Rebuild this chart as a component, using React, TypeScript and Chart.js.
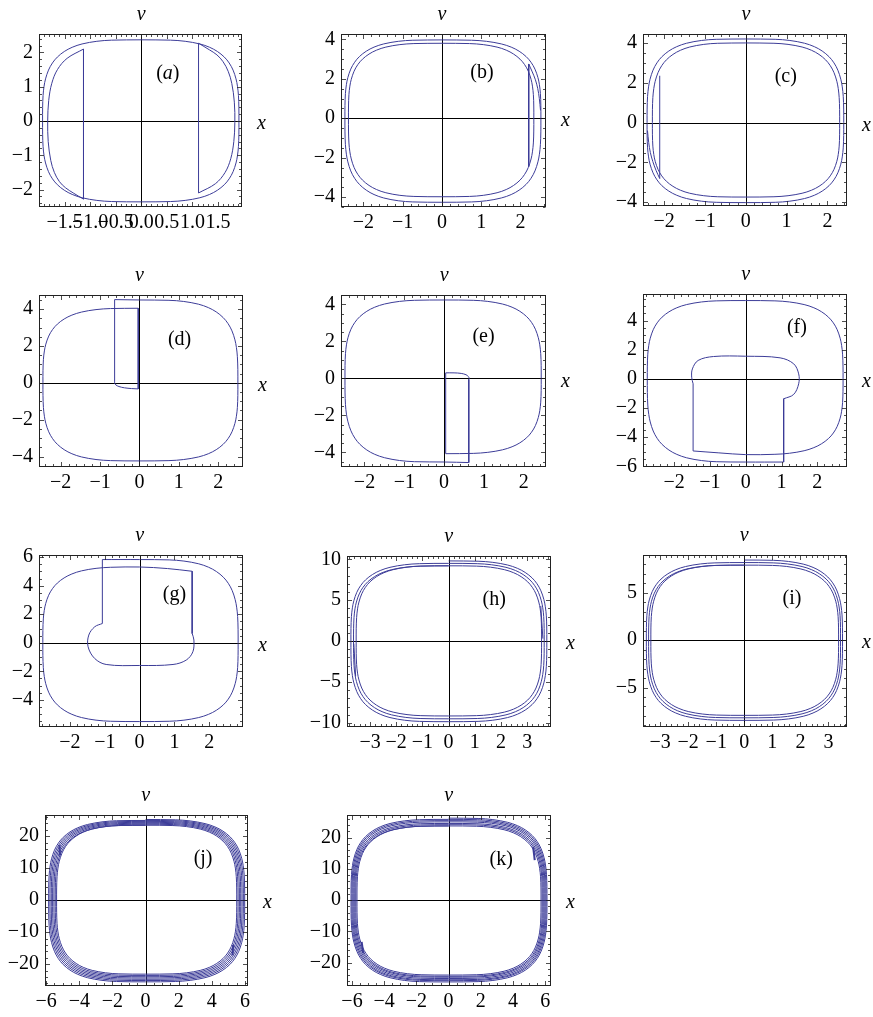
import React, { useEffect, useRef } from "react";
import { Chart, registerables } from "chart.js";

Chart.register(...registerables);

type P = [number, number];

const SERIF = "'Liberation Serif', 'Times New Roman', 'DejaVu Serif', serif";
const CURVE = "#3c3c98";
const INK = "#000";

// One quarter of a rounded phase loop, from its top (0,1) to its side (1,0)
const LOOP_QUARTER: P[] = [
  [0, 1], [0.3, 0.996], [0.45, 0.982], [0.6, 0.949], [0.7, 0.908], [0.78, 0.856],
  [0.85, 0.788], [0.9, 0.715], [0.94, 0.627], [0.97, 0.519], [0.985, 0.428],
  [0.995, 0.315], [0.9995, 0.163], [1, 0],
];

const TR = (xR: number, vT: number): P[] => LOOP_QUARTER.map(([u, w]) => [u * xR, w * vT]);
const BR = (xR: number, vB: number): P[] => LOOP_QUARTER.slice().reverse().map(([u, w]) => [u * xR, w * vB]);
const BL = (xL: number, vB: number): P[] => LOOP_QUARTER.map(([u, w]) => [u * xL, w * vB]);
const TL = (xL: number, vT: number): P[] => LOOP_QUARTER.slice().reverse().map(([u, w]) => [u * xL, w * vT]);

function join(...parts: P[][]): P[] {
  const out: P[] = [];
  for (const part of parts) {
    for (const p of part) {
      const q = out[out.length - 1];
      if (!q || Math.abs(q[0] - p[0]) > 1e-9 || Math.abs(q[1] - p[1]) > 1e-9) out.push(p);
    }
  }
  return out;
}

// closed loop from its extents [xLeft, xRight, vBottom, vTop]
const loop = ([xL, xR, vB, vT]: number[]): P[] => join(TR(xR, vT), BR(xR, vB), BL(xL, vB), TL(xL, vT));

// several turns drawn as one continuous path
function spiral(xl: number[], xr: number[], vb: number[], vt: number[]): P[] {
  const parts: P[][] = [];
  for (let k = 0; k < xl.length; k++) {
    parts.push(TR(xr[k], vt[k]), BR(xr[k], vb[k]), BL(xl[k], vb[k]), TL(xl[k], vt[k + 1]));
  }
  return join(...parts);
}

// ---------- (a) ----------
const A_OUTER = [-1.93, 1.91, -2.36, 2.37];
const A_LEFT_ARC: P[] = [[-1.13, -2.28], [-1.33, -2.1], [-1.48, -1.95], [-1.6, -1.77], [-1.7, -1.5], [-1.77, -1.15], [-1.82, -0.6], [-1.83, 0], [-1.81, 0.6], [-1.75, 1.1], [-1.64, 1.5], [-1.45, 1.83], [-1.13, 2.1]];
const A_LEFT_JUMP: P[] = [[-1.13, 2.1], [-1.13, -2.28]];
const A_RIGHT_ARC: P[] = [[1.12, 2.27], [1.33, 2.08], [1.48, 1.93], [1.6, 1.73], [1.7, 1.45], [1.77, 1.1], [1.82, 0.55], [1.83, -0.05], [1.81, -0.6], [1.75, -1.1], [1.64, -1.5], [1.45, -1.83], [1.12, -2.1]];
const A_RIGHT_JUMP: P[] = [[1.12, -2.1], [1.12, 2.27]];

// ---------- (b) ----------
const B_OUTER = [-2.47, 2.52, -4.26, 3.97];
const B_INNER = [-2.38, 2.34, -3.98, 3.8];
const B_JUMP: P[] = [[2.21, 2.75], [2.21, -2.45]];
const B_SPIKE: P[] = [[2.21, 2.75], [2.3, 2.35], [2.38, 1.95], [2.44, 1.5], [2.48, 1.0], [2.51, 0.4]];

// ---------- (c) ----------
const C_OUTER = [-2.42, 2.4, -4.02, 4.21];
const C_INNER = [-2.29, 2.3, -3.74, 4.01];
const C_JUMP: P[] = [[-2.11, -2.81], [-2.11, 2.36]];
const C_SPIKE: P[] = [[-2.11, -2.81], [-2.2, -2.4], [-2.28, -1.95], [-2.34, -1.5], [-2.38, -1.0], [-2.41, -0.4]];

// ---------- (d) ----------
const D_LOOP: P[] = join([[-0.63, 4.52]], TR(2.5, 4.5), BR(2.5, -4.24), BL(-2.45, -4.24), TL(-2.45, 4.05).slice(0, -1), [[-0.03, 4.05]]);
const D_DROP: P[] = [[-0.03, 4.05], [-0.03, -0.33]];
const D_HOOK: P[] = [[-0.03, -0.33], [-0.2, -0.31], [-0.38, -0.27], [-0.52, -0.2], [-0.6, -0.11], [-0.63, 0.0], [-0.63, 0.05]];
const D_RISE: P[] = [[-0.63, 0.05], [-0.63, 4.52]];

// ---------- (e) ----------
const E_LOOP: P[] = join([[0.62, -4.55]], BL(-2.49, -4.52), TL(-2.49, 4.24), TR(2.44, 4.24), BR(2.44, -4.07).slice(0, -1), [[0.04, -4.07]]);
const E_RISE: P[] = [[0.04, -4.07], [0.04, 0.3]];
const E_HOOK: P[] = [[0.04, 0.3], [0.25, 0.3], [0.43, 0.27], [0.55, 0.2], [0.61, 0.1], [0.63, 0.0], [0.62, -0.05]];
const E_DROP: P[] = [[0.62, -0.05], [0.62, -4.55]];

// ---------- (f) ----------
const F_LOOP: P[] = join([[1.06, -5.71]], BL(-2.75, -5.71), TL(-2.75, 5.37), TR(2.72, 5.37), BR(2.72, -5.2), [[-0.75, -5.08], [-1.47, -4.95]]);
const F_RISE: P[] = [[-1.47, -4.95], [-1.47, -0.34]];
const F_INNER: P[] = [[-1.47, -0.34], [-1.51, 0.11], [-1.49, 0.68], [-1.33, 1.26], [-0.9, 1.53], [0, 1.55], [0.96, 1.44], [1.34, 1.03], [1.48, 0.34], [1.48, -0.34], [1.34, -1.07], [1.06, -1.37]];
const F_DROP: P[] = [[1.06, -1.37], [1.06, -5.71]];

// ---------- (g) ----------
const G_RISE: P[] = [[-1.07, 1.35], [-1.07, 5.83]];
const G_LOOP: P[] = join([[-1.07, 5.83]], TR(2.83, 5.83), BR(2.83, -5.52), BL(-2.78, -5.52), TL(-2.78, 5.31), [[0.8, 5.2], [1.51, 5.01]]);
const G_DROP: P[] = [[1.51, 5.01], [1.51, 0.65]];
const G_INNER: P[] = [[1.51, 0.65], [1.56, 0.19], [1.53, -0.63], [1.34, -1.21], [0.96, -1.52], [0, -1.59], [-0.96, -1.52], [-1.29, -1.1], [-1.48, -0.28], [-1.46, 0.54], [-1.29, 1.12], [-1.07, 1.35]];

// ---------- (h) ----------
const H_XL = [-3.73, -3.63, -3.53];
const H_XR = [3.75, 3.65, 3.55];
const H_VB = [-9.85, -9.5, -9.15];
const H_VT = [9.8, 9.5, 9.2, 9.2];
const H_END_R: P[] = [[3.52, 4.3], [3.6, 0.3]];
const H_END_L: P[] = [[-3.55, -4.3], [-3.62, -0.3]];

// ---------- (i) ----------
const I_XL = [-3.49, -3.41, -3.33];
const I_XR = [3.5, 3.43, 3.36];
const I_VB = [-8.47, -8.2, -7.94];
const I_VT = [8.47, 8.2, 7.93, 7.93];

// ---------- (j) ----------
const J_XL = [-5.85, -5.77, -5.69, -5.61, -5.53, -5.45, -5.37];
const J_XR = [5.98, 5.9, 5.82, 5.74, 5.66, 5.58, 5.5];
const J_VB = [-25.5, -25.1, -24.7, -24.3, -23.9, -23.5, -23.1];
const J_VT = [25.2, 24.9, 24.6, 24.3, 24.0, 23.7, 23.4, 23.4];
const J_END_L: P[] = [[-5.2, 17.2], [-5.16, 14]];
const J_END_R: P[] = [[5.25, -17.2], [5.28, -14]];

// ---------- (k) ----------
const K_XL = [-6.06, -6.0, -5.94, -5.88, -5.82, -5.76, -5.69];
const K_XR = [6.11, 6.05, 5.99, 5.93, 5.87, 5.81, 5.74];
const K_VB = [-26.2, -25.8, -25.5, -25.1, -24.7, -24.4, -24.0];
const K_VT = [26.2, 25.8, 25.4, 25.0, 24.5, 24.1, 23.7, 23.7];
const K_END_R: P[] = [[5.25, 17], [5.35, 12.8]];
const K_END_L: P[] = [[-5.3, -17], [-5.4, -13.4]];

// ---------- tick values ----------
const A_XTICKS = [-1.5, -1, -0.5, 0, 0.5, 1, 1.5];
const A_YTICKS = [-2, -1, 0, 1, 2];
const X2_TICKS = [-2, -1, 0, 1, 2];
const Y4_TICKS = [-4, -2, 0, 2, 4];
const F_YTICKS = [-6, -4, -2, 0, 2, 4];
const G_YTICKS = [-4, -2, 0, 2, 4, 6];
const X3_TICKS = [-3, -2, -1, 0, 1, 2, 3];
const H_YTICKS = [-10, -5, 0, 5, 10];
const I_YTICKS = [-5, 0, 5];
const X6_TICKS = [-6, -4, -2, 0, 2, 4, 6];
const Y20_TICKS = [-20, -10, 0, 10, 20];

type Piece = { pts: P[]; smooth: boolean; width?: number };
type TagPart = { t: string; italic: boolean };
type PanelCfg = {
  frame: [number, number, number, number];
  xRange: [number, number];
  yRange: [number, number];
  xTicks: number[];
  yTicks: number[];
  xMinor: number;
  yMinor: number;
  xDec: number;
  tag: TagPart[];
  tagAt: P;
  pieces: Piece[];
};

const sm = (pts: P[], width?: number): Piece => ({ pts, smooth: true, width });
const st = (pts: P[], width?: number): Piece => ({ pts, smooth: false, width });
const up = (s: string): TagPart[] => [{ t: s, italic: false }];

const PANELS: PanelCfg[] = [
  {
    frame: [39, 34, 242, 207], xRange: [-2.0, 1.97], yRange: [-2.51, 2.54],
    xTicks: A_XTICKS, yTicks: A_YTICKS, xMinor: 0.1, yMinor: 0.2, xDec: 1,
    tag: [{ t: "(", italic: false }, { t: "a", italic: true }, { t: ")", italic: false }], tagAt: [0.52, 1.38],
    pieces: [sm(loop(A_OUTER)), sm(A_LEFT_ARC), st(A_LEFT_JUMP), sm(A_RIGHT_ARC), st(A_RIGHT_JUMP)],
  },
  {
    frame: [341, 34, 546, 207], xRange: [-2.57, 2.65], yRange: [-4.5, 4.27],
    xTicks: X2_TICKS, yTicks: Y4_TICKS, xMinor: 0.2, yMinor: 0.5, xDec: 0,
    tag: up("(b)"), tagAt: [1.02, 2.31],
    pieces: [sm(loop(B_OUTER)), sm(loop(B_INNER)), st(B_JUMP), sm(B_SPIKE)],
  },
  {
    frame: [643, 34, 847, 206], xRange: [-2.52, 2.48], yRange: [-4.19, 4.46],
    xTicks: X2_TICKS, yTicks: Y4_TICKS, xMinor: 0.2, yMinor: 0.5, xDec: 0,
    tag: up("(c)"), tagAt: [0.98, 2.32],
    pieces: [sm(loop(C_OUTER)), sm(loop(C_INNER)), st(C_JUMP), sm(C_SPIKE)],
  },
  {
    frame: [39, 295, 243, 467], xRange: [-2.55, 2.63], yRange: [-4.57, 4.77],
    xTicks: X2_TICKS, yTicks: Y4_TICKS, xMinor: 0.2, yMinor: 0.5, xDec: 0,
    tag: up("(d)"), tagAt: [1.02, 2.32],
    pieces: [sm(D_LOOP), st(D_DROP), sm(D_HOOK), st(D_RISE)],
  },
  {
    frame: [341, 295, 546, 467], xRange: [-2.59, 2.56], yRange: [-4.79, 4.51],
    xTicks: X2_TICKS, yTicks: Y4_TICKS, xMinor: 0.2, yMinor: 0.5, xDec: 0,
    tag: up("(e)"), tagAt: [0.99, 2.25],
    pieces: [sm(E_LOOP), st(E_RISE), sm(E_HOOK), st(E_DROP)],
  },
  {
    frame: [643, 294, 847, 467], xRange: [-2.87, 2.83], yRange: [-6.05, 5.82],
    xTicks: X2_TICKS, yTicks: F_YTICKS, xMinor: 0.2, yMinor: 0.5, xDec: 0,
    tag: up("(f)"), tagAt: [1.43, 3.49],
    pieces: [sm(F_LOOP), st(F_RISE), sm(F_INNER), st(F_DROP)],
  },
  {
    frame: [39, 555, 243, 727], xRange: [-2.89, 2.97], yRange: [-5.9, 6.15],
    xTicks: X2_TICKS, yTicks: G_YTICKS, xMinor: 0.2, yMinor: 0.5, xDec: 0,
    tag: up("(g)"), tagAt: [1.0, 3.34],
    pieces: [st(G_RISE), sm(G_LOOP), st(G_DROP), sm(G_INNER)],
  },
  {
    frame: [347, 556, 551, 727], xRange: [-3.88, 3.91], yRange: [-10.5, 10.4],
    xTicks: X3_TICKS, yTicks: H_YTICKS, xMinor: 0.2, yMinor: 1, xDec: 0,
    tag: up("(h)"), tagAt: [1.74, 5.1],
    pieces: [sm(spiral(H_XL, H_XR, H_VB, H_VT)), st(H_END_R), st(H_END_L)],
  },
  {
    frame: [643, 555, 847, 727], xRange: [-3.61, 3.66], yRange: [-9.17, 9.0],
    xTicks: X3_TICKS, yTicks: I_YTICKS, xMinor: 0.2, yMinor: 1, xDec: 0,
    tag: up("(i)"), tagAt: [1.7, 4.41],
    pieces: [sm(spiral(I_XL, I_XR, I_VB, I_VT))],
  },
  {
    frame: [45, 815, 248, 986], xRange: [-6.07, 6.18], yRange: [-26.8, 26.6],
    xTicks: X6_TICKS, yTicks: Y20_TICKS, xMinor: 0.5, yMinor: 2, xDec: 0,
    tag: up("(j)"), tagAt: [3.47, 12.8],
    pieces: [sm(spiral(J_XL, J_XR, J_VB, J_VT)), st(J_END_L, 2), st(J_END_R, 2)],
  },
  {
    frame: [347, 815, 551, 986], xRange: [-6.31, 6.36], yRange: [-27.5, 27.2],
    xTicks: X6_TICKS, yTicks: Y20_TICKS, xMinor: 0.5, yMinor: 2, xDec: 0,
    tag: up("(k)"), tagAt: [3.27, 12.8],
    pieces: [sm(spiral(K_XL, K_XR, K_VB, K_VT)), st(K_END_R, 2), st(K_END_L, 2)],
  },
];

const fmt = (v: number, dec: number) => (v < -1e-9 ? "\u2212" : "") + Math.abs(v).toFixed(dec);

function framePlugin(cfg: PanelCfg) {
  return {
    id: "phaseFrame",
    beforeDatasetsDraw(chart: any) {
      const { ctx, chartArea: ca, scales } = chart;
      const x0 = Math.round(scales.x.getPixelForValue(0)) + 0.5;
      const y0 = Math.round(scales.y.getPixelForValue(0)) + 0.5;
      ctx.save();
      ctx.strokeStyle = INK;
      ctx.lineWidth = 1;
      ctx.beginPath();
      ctx.moveTo(x0, ca.top);
      ctx.lineTo(x0, ca.bottom);
      ctx.moveTo(ca.left, y0);
      ctx.lineTo(ca.right, y0);
      ctx.stroke();
      ctx.restore();
    },
    afterDraw(chart: any) {
      const { ctx, chartArea: ca, scales } = chart;
      const sx = scales.x;
      const sy = scales.y;
      const L = Math.round(ca.left) + 0.5;
      const R = Math.round(ca.right) - 0.5;
      const T = Math.round(ca.top) + 0.5;
      const B = Math.round(ca.bottom) - 0.5;
      ctx.save();
      ctx.strokeStyle = "#222";
      ctx.lineWidth = 1;
      ctx.strokeRect(L, T, R - L, B - T);

      const major = 4.5;
      const minor = 2.5;
      ctx.lineWidth = 0.8;
      ctx.beginPath();
      const isMajor = (v: number, list: number[]) => list.some((m) => Math.abs(m - v) < 1e-6);
      // ticks along the bottom and top edges
      for (let k = Math.ceil(cfg.xRange[0] / cfg.xMinor); k * cfg.xMinor <= cfg.xRange[1]; k++) {
        const v = k * cfg.xMinor;
        const len = isMajor(v, cfg.xTicks) ? major : minor;
        const px = Math.round(sx.getPixelForValue(v)) + 0.5;
        ctx.moveTo(px, B);
        ctx.lineTo(px, B - len);
        ctx.moveTo(px, T);
        ctx.lineTo(px, T + len);
      }
      // ticks along the left and right edges
      for (let k = Math.ceil(cfg.yRange[0] / cfg.yMinor); k * cfg.yMinor <= cfg.yRange[1]; k++) {
        const v = k * cfg.yMinor;
        const len = isMajor(v, cfg.yTicks) ? major : minor;
        const py = Math.round(sy.getPixelForValue(v)) + 0.5;
        ctx.moveTo(L, py);
        ctx.lineTo(L + len, py);
        ctx.moveTo(R, py);
        ctx.lineTo(R - len, py);
      }
      ctx.stroke();

      // axis names
      ctx.fillStyle = INK;
      ctx.font = `italic 20px ${SERIF}`;
      ctx.textAlign = "center";
      ctx.textBaseline = "middle";
      ctx.fillText("v", sx.getPixelForValue(0), ca.top - 19);
      ctx.textAlign = "left";
      ctx.fillText("x", ca.right + 15, sy.getPixelForValue(0) + 3);

      // panel tag
      const fontFor = (p: TagPart) => `${p.italic ? "italic " : ""}20px ${SERIF}`;
      let total = 0;
      for (const p of cfg.tag) {
        ctx.font = fontFor(p);
        total += ctx.measureText(p.t).width;
      }
      let cx = sx.getPixelForValue(cfg.tagAt[0]) - total / 2;
      const cy = sy.getPixelForValue(cfg.tagAt[1]);
      for (const p of cfg.tag) {
        ctx.font = fontFor(p);
        ctx.fillText(p.t, cx, cy);
        cx += ctx.measureText(p.t).width;
      }
      ctx.restore();
    },
  };
}

function Panel({ cfg }: { cfg: PanelCfg }) {
  const ref = useRef<HTMLCanvasElement>(null);
  const [l, t, r, b] = cfg.frame;
  const cLeft = Math.max(0, l - 46);
  const cTop = t - 34;
  const cRight = r + 40;
  const cBottom = Math.min(1017, b + 30);
  const w = cRight - cLeft;
  const h = cBottom - cTop;
  const yW = l - cLeft;
  const xH = cBottom - b;

  useEffect(() => {
    const canvas = ref.current;
    if (!canvas) return;
    const chart = new Chart(canvas, {
      type: "scatter",
      data: {
        datasets: cfg.pieces.map((pc) => ({
          data: pc.pts.map(([x, y]) => ({ x, y })),
          showLine: true,
          borderColor: CURVE,
          backgroundColor: CURVE,
          borderWidth: pc.width ?? 1,
          pointRadius: 0,
          pointHoverRadius: 0,
          tension: pc.smooth ? 0.35 : 0,
          fill: false,
        })),
      },
      options: {
        responsive: false,
        animation: false,
        events: [],
        layout: { padding: { left: 0, top: 34, right: 40, bottom: 0 } },
        plugins: { legend: { display: false }, tooltip: { enabled: false } },
        scales: {
          x: {
            type: "linear",
            min: cfg.xRange[0],
            max: cfg.xRange[1],
            afterBuildTicks: (s: any) => {
              s.ticks = cfg.xTicks.map((v) => ({ value: v }));
            },
            afterFit: (s: any) => {
              s.height = xH;
            },
            ticks: {
              autoSkip: false,
              maxRotation: 0,
              minRotation: 0,
              padding: 4,
              color: INK,
              font: { family: SERIF, size: 20 },
              callback: (v: any) => fmt(Number(v), cfg.xDec),
            },
            grid: { display: false, drawTicks: false },
            border: { display: false },
          },
          y: {
            type: "linear",
            min: cfg.yRange[0],
            max: cfg.yRange[1],
            afterBuildTicks: (s: any) => {
              s.ticks = cfg.yTicks.map((v) => ({ value: v }));
            },
            afterFit: (s: any) => {
              s.width = yW;
            },
            ticks: {
              autoSkip: false,
              padding: 6,
              color: INK,
              font: { family: SERIF, size: 20 },
              callback: (v: any) => fmt(Number(v), 0),
            },
            grid: { display: false, drawTicks: false },
            border: { display: false },
          },
        },
      },
      plugins: [framePlugin(cfg)],
    } as any);
    return () => chart.destroy();
  }, [cfg]);

  return (
    <canvas
      ref={ref}
      width={w}
      height={h}
      style={{ position: "absolute", left: cLeft, top: cTop, width: w, height: h }}
    />
  );
}

export default function App() {
  return (
    <div style={{ position: "absolute", left: 0, top: 0, width: 873, height: 1017, background: "#fff", overflow: "hidden" }}>
      {PANELS.map((cfg, i) => (
        <Panel key={i} cfg={cfg} />
      ))}
    </div>
  );
}
